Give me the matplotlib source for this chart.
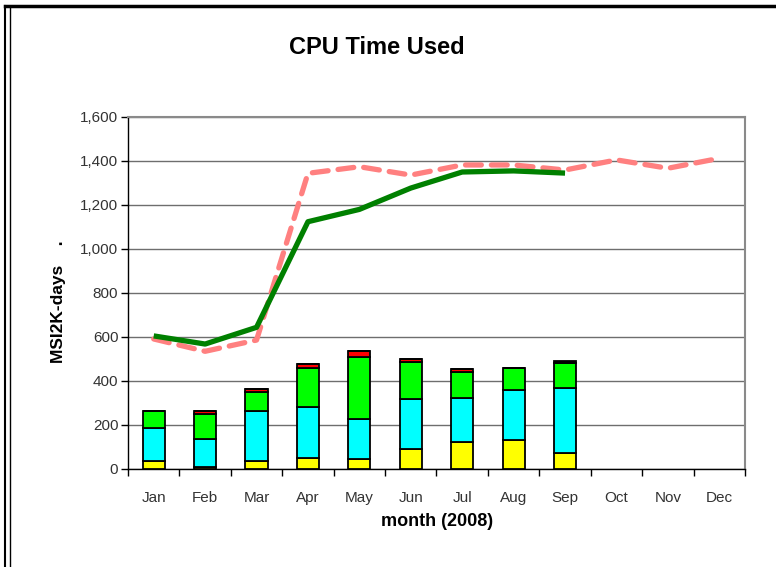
import matplotlib
matplotlib.use("Agg")
import matplotlib.pyplot as plt
from matplotlib.lines import Line2D
import numpy as np

plt.rcParams['font.family'] = ['Liberation Sans', 'DejaVu Sans']

months = ["Jan", "Feb", "Mar", "Apr", "May", "Jun", "Jul", "Aug", "Sep", "Oct", "Nov", "Dec"]
bar_months = months[:9]
yellow = [36, 10, 36, 51, 45, 89, 124, 132, 71]
cyan = [150, 125, 228, 231, 181, 228, 199, 227, 296]
green = [78, 115, 85, 178, 285, 169, 117, 100, 116]
red = [0, 15, 15, 16, 25, 14, 13, 0, 0]
black = [0, 0, 0, 0, 0, 0, 0, 0, 10]
used_line = [605, 568, 644, 1124, 1180, 1277, 1350, 1355, 1345]
pledge_line = [591, 535, 586, 1344, 1374, 1336, 1382, 1382, 1359, 1405, 1367, 1412]
yticks = [0, 200, 400, 600, 800, 1000, 1200, 1400, 1600]

W, H = 776, 567
fig = plt.figure(figsize=(W / 100, H / 100), dpi=100)
ax = fig.add_axes([128 / W, 1 - 469 / H, (745 - 128) / W, (469 - 117) / H])

x_all = np.arange(len(months))
xb = np.arange(len(bar_months))
bottom = np.zeros(len(bar_months))
for vals, col in [(yellow, "#FFFF00"), (cyan, "#00FFFF"), (green, "#00FF00"),
                  (red, "#FF0000"), (black, "#000000")]:
    v = np.array(vals, dtype=float)
    ax.bar(xb, v, width=0.43, bottom=bottom, color=col, edgecolor="black",
           linewidth=1.3, zorder=3)
    bottom += v

ax.plot(x_all, pledge_line, color="#FF8080", lw=3.8, linestyle=(0, (3.0, 1.9)),
        dash_capstyle="round", solid_capstyle="round", zorder=4)
ax.plot(xb, used_line, color="#008000", lw=3.8, solid_capstyle="butt", zorder=5)

ax.set_xlim(-0.5, len(months) - 0.5)
ax.set_ylim(0, 1600)
ax.set_yticks(yticks)
ax.set_yticklabels([f"{v:,}" for v in yticks], fontsize=11, color="#333333")
ax.set_xticks(x_all)
ax.set_xticklabels(months, fontsize=11, color="#333333")
ax.set_xticks(np.arange(-0.5, len(months), 1), minor=True)
ax.tick_params(axis="x", which="major", length=0, pad=16)
ax.tick_params(axis="x", which="minor", length=5, direction="out", width=1)
ax.tick_params(axis="y", length=5, direction="out", width=1, pad=2)
ax.grid(axis="y", color="#6e6e6e", linewidth=1, zorder=1)
ax.set_axisbelow(True)
for s in ["left", "bottom"]:
    ax.spines[s].set_color("black")
    ax.spines[s].set_linewidth(1)
for s in ["right", "top"]:
    ax.spines[s].set_color("#8a8a8a")
    ax.spines[s].set_linewidth(1.5)

fig.text(377 / W, 1 - 47 / H, "CPU Time Used", ha="center", va="center",
         fontsize=17, fontweight="bold")
fig.text(437 / W, 1 - 521 / H, "month (2008)", ha="center", va="center",
         fontsize=13, fontweight="bold")
fig.text(58 / W, 1 - 302 / H, "MSI2K-days    .", ha="center", va="center",
         rotation=90, fontsize=12.5, fontweight="bold")

# figure frame
fig.add_artist(Line2D([5 / W, 1], [1 - 6 / H, 1 - 6 / H], color="black", lw=2.5,
                      transform=fig.transFigure))
fig.add_artist(Line2D([5 / W, 5 / W], [0, 1 - 6 / H], color="black", lw=1.5,
                      transform=fig.transFigure))
fig.add_artist(Line2D([10 / W, 10 / W], [0, 1 - 6 / H], color="black", lw=1.0,
                      transform=fig.transFigure))

fig.savefig("out.png", dpi=100)
